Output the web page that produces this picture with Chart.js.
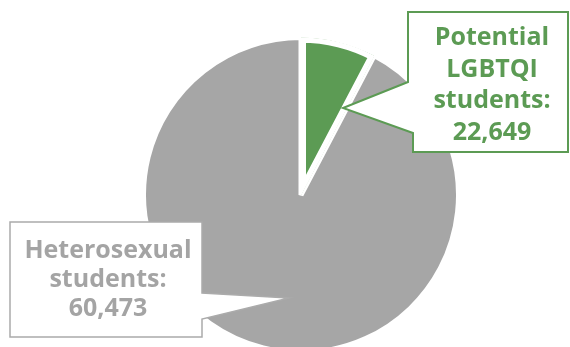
<!DOCTYPE html>
<html>
<head>
<meta charset="utf-8">
<script src="https://cdn.jsdelivr.net/npm/chart.js@4.4.1/dist/chart.umd.min.js"></script>
<style>
  html, body { margin: 0; padding: 0; background: #ffffff; }
  #wrap { width: 570px; height: 347px; position: relative; }
</style>
</head>
<body>
<div id="wrap"><canvas id="c" width="570" height="347"></canvas></div>
<script>
// ---- data ----
const categories = ['Potential LGBTQI students', 'Heterosexual students'];
const labelLines = [['Potential', 'LGBTQI', 'students:'], ['Heterosexual', 'students:']];
const counts = [22649, 60473];            // numbers printed in the callouts
const sliceShares = [7.7, 92.3];          // slice sizes as drawn (percent of the circle)

// ---- styles ----
const GREEN = '#5c9b54';
const GRAY = '#a6a6a6';
const TEXT_GRAY = '#a4a4a4';
const FONT = 'bold 25px "Open Sans", "DejaVu Sans", sans-serif';

const fmt = n => n.toLocaleString('en-US');

// draw gray slice first so the green slice's edges sit on top; rotate so green starts at 12 o'clock
const order = [1, 0];
const rotation = sliceShares[0] / sliceShares.reduce((a, b) => a + b, 0) * 360;

const callouts = [
  { idx: 0, stroke: GREEN, text: GREEN, lw: 2,
    shape: [[408,12],[568,12],[568,152],[413,152],[413,133],[343,108],[408,82]],
    cx: 492, baselines: [45, 76.5, 108, 139.5] },
  { idx: 1, stroke: '#ababab', text: TEXT_GRAY, lw: 1.5,
    shape: [[10,222],[202,222],[202,293],[289,298],[202,319],[202,337],[10,337]],
    cx: 108, baselines: [258, 287, 315.5] }
];

const calloutPlugin = {
  id: 'callouts',
  afterDraw(chart) {
    const ctx = chart.ctx;
    ctx.save();
    callouts.forEach(c => {
      ctx.beginPath();
      c.shape.forEach((p, i) => i ? ctx.lineTo(p[0], p[1]) : ctx.moveTo(p[0], p[1]));
      ctx.closePath();
      ctx.fillStyle = '#ffffff';
      ctx.fill();
      ctx.lineWidth = c.lw;
      ctx.strokeStyle = c.stroke;
      ctx.lineJoin = 'miter';
      ctx.stroke();
      const lines = labelLines[c.idx].concat([fmt(counts[c.idx])]);
      ctx.font = FONT;
      ctx.fillStyle = c.text;
      ctx.textAlign = 'center';
      ctx.textBaseline = 'alphabetic';
      lines.forEach((t, i) => ctx.fillText(t, c.cx, c.baselines[i]));
    });
    ctx.restore();
  }
};

new Chart(document.getElementById('c'), {
  type: 'pie',
  data: {
    labels: order.map(i => categories[i]),
    datasets: [{
      data: order.map(i => sliceShares[i]),
      backgroundColor: order.map(i => [GREEN, GRAY][i]),
      borderColor: '#ffffff',
      borderWidth: order.map(i => [5, 5][i]),
      borderAlign: order.map(i => ['inner', 'center'][i])
    }]
  },
  options: {
    responsive: false,
    animation: false,
    devicePixelRatio: 1,
    rotation: rotation,
    radius: 157.5,
    layout: { padding: { left: 32, top: 43, right: 0, bottom: 0 } },
    plugins: {
      legend: { display: false },
      tooltip: { enabled: false }
    }
  },
  plugins: [calloutPlugin]
});
</script>
</body>
</html>
